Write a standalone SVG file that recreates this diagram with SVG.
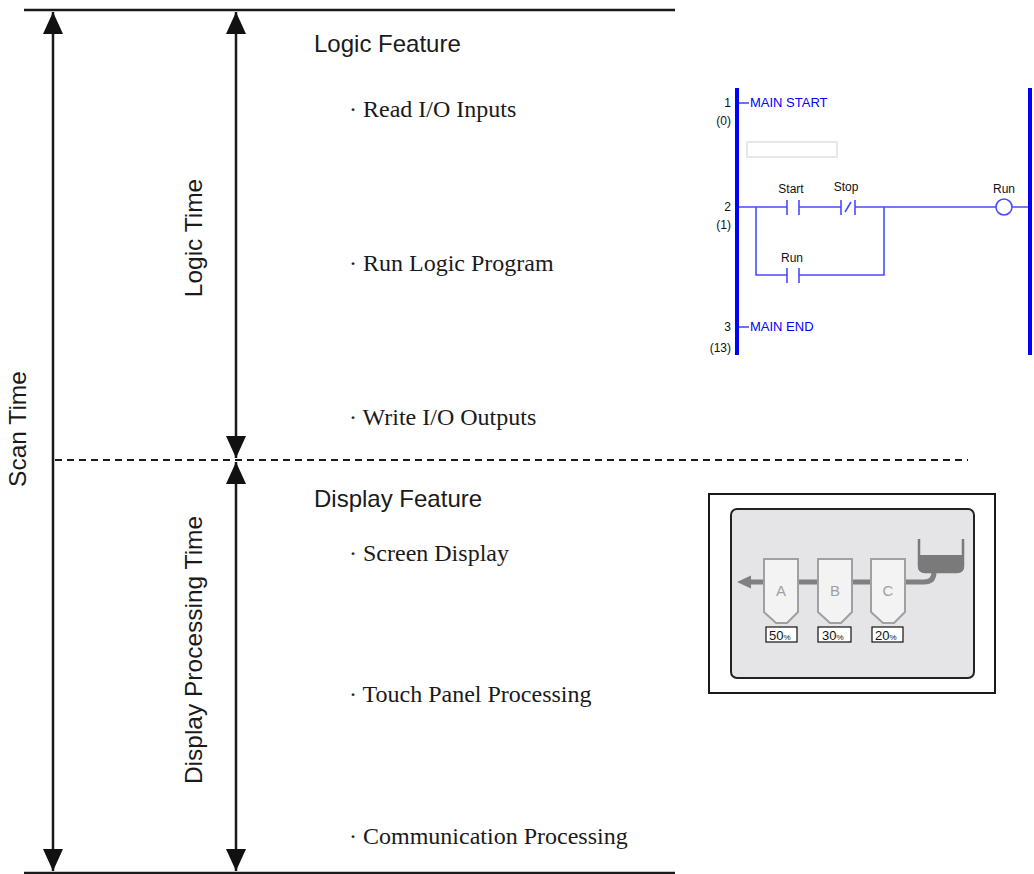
<svg xmlns="http://www.w3.org/2000/svg" width="1034" height="874" viewBox="0 0 1034 874">
  <style>
    .rule { stroke: #1a1a1a; stroke-width: 2.5; fill: none; }
    .dim { stroke: #1a1a1a; stroke-width: 2.5; fill: none; }
    .sans { font-family: "Liberation Sans", Arial, sans-serif; fill: #1a1a1a; }
    .serif { font-family: "Liberation Serif", "Times New Roman", serif; fill: #1a1a1a; font-size: 24px; }
    .head { font-size: 24px; }
    .vlabel { font-size: 24.5px; text-anchor: middle; }
    .rail { stroke: #0000ff; stroke-width: 4; fill: none; }
    .rung { stroke: #4a4aff; stroke-width: 1.6; fill: none; }
    .ltxt { font-family: "Liberation Sans", Arial, sans-serif; font-size: 13px; fill: #0000ff; }
    .lnum { font-family: "Liberation Sans", Arial, sans-serif; font-size: 12px; fill: #111; text-anchor: end; }
    .lname { font-family: "Liberation Sans", Arial, sans-serif; font-size: 12px; fill: #111; text-anchor: middle; }
    .hopper { fill: #f3f3f3; stroke: #a0a0a0; stroke-width: 2; }
    .hlabel { font-family: "Liberation Sans", Arial, sans-serif; font-size: 15px; fill: #a0a0a0; text-anchor: middle; }
    .pct { fill: #fff; stroke: #111; stroke-width: 1.2; }
    .pctxt { font-family: "Liberation Sans", Arial, sans-serif; font-size: 13px; fill: #111; }
  </style>
  <defs>
    <marker id="arrow" markerUnits="userSpaceOnUse" markerWidth="22" markerHeight="20" refX="22" refY="10" orient="auto-start-reverse" viewBox="0 0 22 20">
      <path d="M0,0 L22,10 L0,20 Z" fill="#111"/>
    </marker>
  </defs>

  <!-- frame rules and time spans -->
  <g id="connectors">
    <line class="rule" x1="24" y1="10" x2="675" y2="10"/>
    <line class="rule" x1="24" y1="873" x2="675" y2="873"/>
    <line x1="55" y1="460" x2="968" y2="460" stroke="#1a1a1a" stroke-width="2" stroke-dasharray="7,5"/>
    <line class="dim" x1="53" y1="12" x2="53" y2="871" marker-start="url(#arrow)" marker-end="url(#arrow)"/>
    <line class="dim" x1="236" y1="12" x2="236" y2="458" marker-start="url(#arrow)" marker-end="url(#arrow)"/>
    <line class="dim" x1="236" y1="462" x2="236" y2="871" marker-start="url(#arrow)" marker-end="url(#arrow)"/>
  </g>

  <g id="scan-time">
    <text class="sans vlabel" font-size="25" transform="translate(26,429) rotate(-90)">Scan Time</text>
  </g>
  <g id="logic-time">
    <text class="sans vlabel" transform="translate(202,238) rotate(-90)">Logic Time</text>
  </g>
  <g id="display-time">
    <text class="sans vlabel" transform="translate(202,650) rotate(-90)">Display Processing Time</text>
  </g>

  <g id="logic-feature">
    <text class="sans head" x="314" y="52">Logic Feature</text>
    <text class="serif" x="349" y="117">· Read I/O Inputs</text>
    <text class="serif" x="349" y="271">· Run Logic Program</text>
    <text class="serif" x="349" y="425">· Write I/O Outputs</text>
  </g>

  <g id="display-feature">
    <text class="sans head" x="314" y="507">Display Feature</text>
    <text class="serif" x="349" y="561">· Screen Display</text>
    <text class="serif" x="349" y="702">· Touch Panel Processing</text>
    <text class="serif" x="349" y="844">· Communication Processing</text>
  </g>

  <!-- ladder program -->
  <g id="ladder">
    <line class="rail" x1="737" y1="88" x2="737" y2="355"/>
    <line class="rail" x1="1030" y1="88" x2="1030" y2="355"/>
    <text class="lnum" x="731" y="107">1</text>
    <text class="lnum" x="731" y="125" font-size="11">(0)</text>
    <line class="rung" x1="739" y1="103" x2="749" y2="103"/>
    <text class="ltxt" x="750" y="107">MAIN START</text>
    <rect x="747" y="142" width="90" height="15" fill="#fff" stroke="#e0e0e0" stroke-width="1.5"/>

    <text class="lnum" x="731" y="211">2</text>
    <text class="lnum" x="731" y="229" font-size="11">(1)</text>
    <path class="rung" d="M739,207 H787 M799,207 H841 M855,207 H996 M1012,207 H1028"/>
    <path class="rung" d="M756,207 V275 H787 M799,275 H884 V207"/>
    <!-- Start contact -->
    <path class="rung" d="M787,200 V215 M799,200 V215"/>
    <!-- Stop contact (normally closed) -->
    <path class="rung" d="M841,200 V215 M855,200 V215 M845,212 L851,202"/>
    <!-- Run seal-in contact -->
    <path class="rung" d="M787,268 V283 M799,268 V283"/>
    <!-- Run coil -->
    <circle cx="1004" cy="207" r="8" fill="#fff" stroke="#4a4aff" stroke-width="1.6"/>
    <text class="lname" x="791" y="193">Start</text>
    <text class="lname" x="846" y="191">Stop</text>
    <text class="lname" x="1004" y="193">Run</text>
    <text class="lname" x="792" y="262">Run</text>

    <text class="lnum" x="731" y="331">3</text>
    <text class="lnum" x="731" y="352" font-size="11">(13)</text>
    <line class="rung" x1="739" y1="327" x2="749" y2="327"/>
    <text class="ltxt" x="750" y="331">MAIN END</text>
  </g>

  <!-- operator screen -->
  <g id="screen">
    <rect x="709" y="494" width="286" height="199" fill="#fff" stroke="#1a1a1a" stroke-width="2"/>
    <rect x="731" y="509" width="243" height="169" rx="6" fill="#e5e5e7" stroke="#222" stroke-width="2"/>
    <!-- pipe from tank -->
    <path d="M934,560 V572 Q934,582 924,582 H750" fill="none" stroke="#808080" stroke-width="5"/>
    <path d="M737,582 L751,575.5 L751,588.5 Z" fill="#808080"/>
    <!-- tank -->
    <path d="M918,555 H964 V566 Q964,572 958,572 H924 Q918,572 918,566 Z" fill="#7a7a7a"/>
    <path d="M919,539 V566 Q919,572 925,572 H957 Q963,572 963,566 V539" fill="none" stroke="#7a7a7a" stroke-width="2.5"/>
    <!-- hoppers -->
    <path class="hopper" d="M764,559 H798 V612 L787,623 H776 L764,612 Z"/>
    <path class="hopper" d="M818,559 H852 V612 L841,623 H830 L818,612 Z"/>
    <path class="hopper" d="M871,559 H905 V612 L894,623 H883 L871,612 Z"/>
    <text class="hlabel" x="781" y="596">A</text>
    <text class="hlabel" x="835" y="596">B</text>
    <text class="hlabel" x="888" y="596">C</text>
    <rect class="pct" x="766" y="627" width="31" height="15"/>
    <rect class="pct" x="818" y="627" width="33" height="15"/>
    <rect class="pct" x="872" y="627" width="31" height="15"/>
    <text class="pctxt" x="769" y="640">50<tspan font-size="8">%</tspan></text>
    <text class="pctxt" x="822" y="640">30<tspan font-size="8">%</tspan></text>
    <text class="pctxt" x="875" y="640">20<tspan font-size="8">%</tspan></text>
  </g>
</svg>
